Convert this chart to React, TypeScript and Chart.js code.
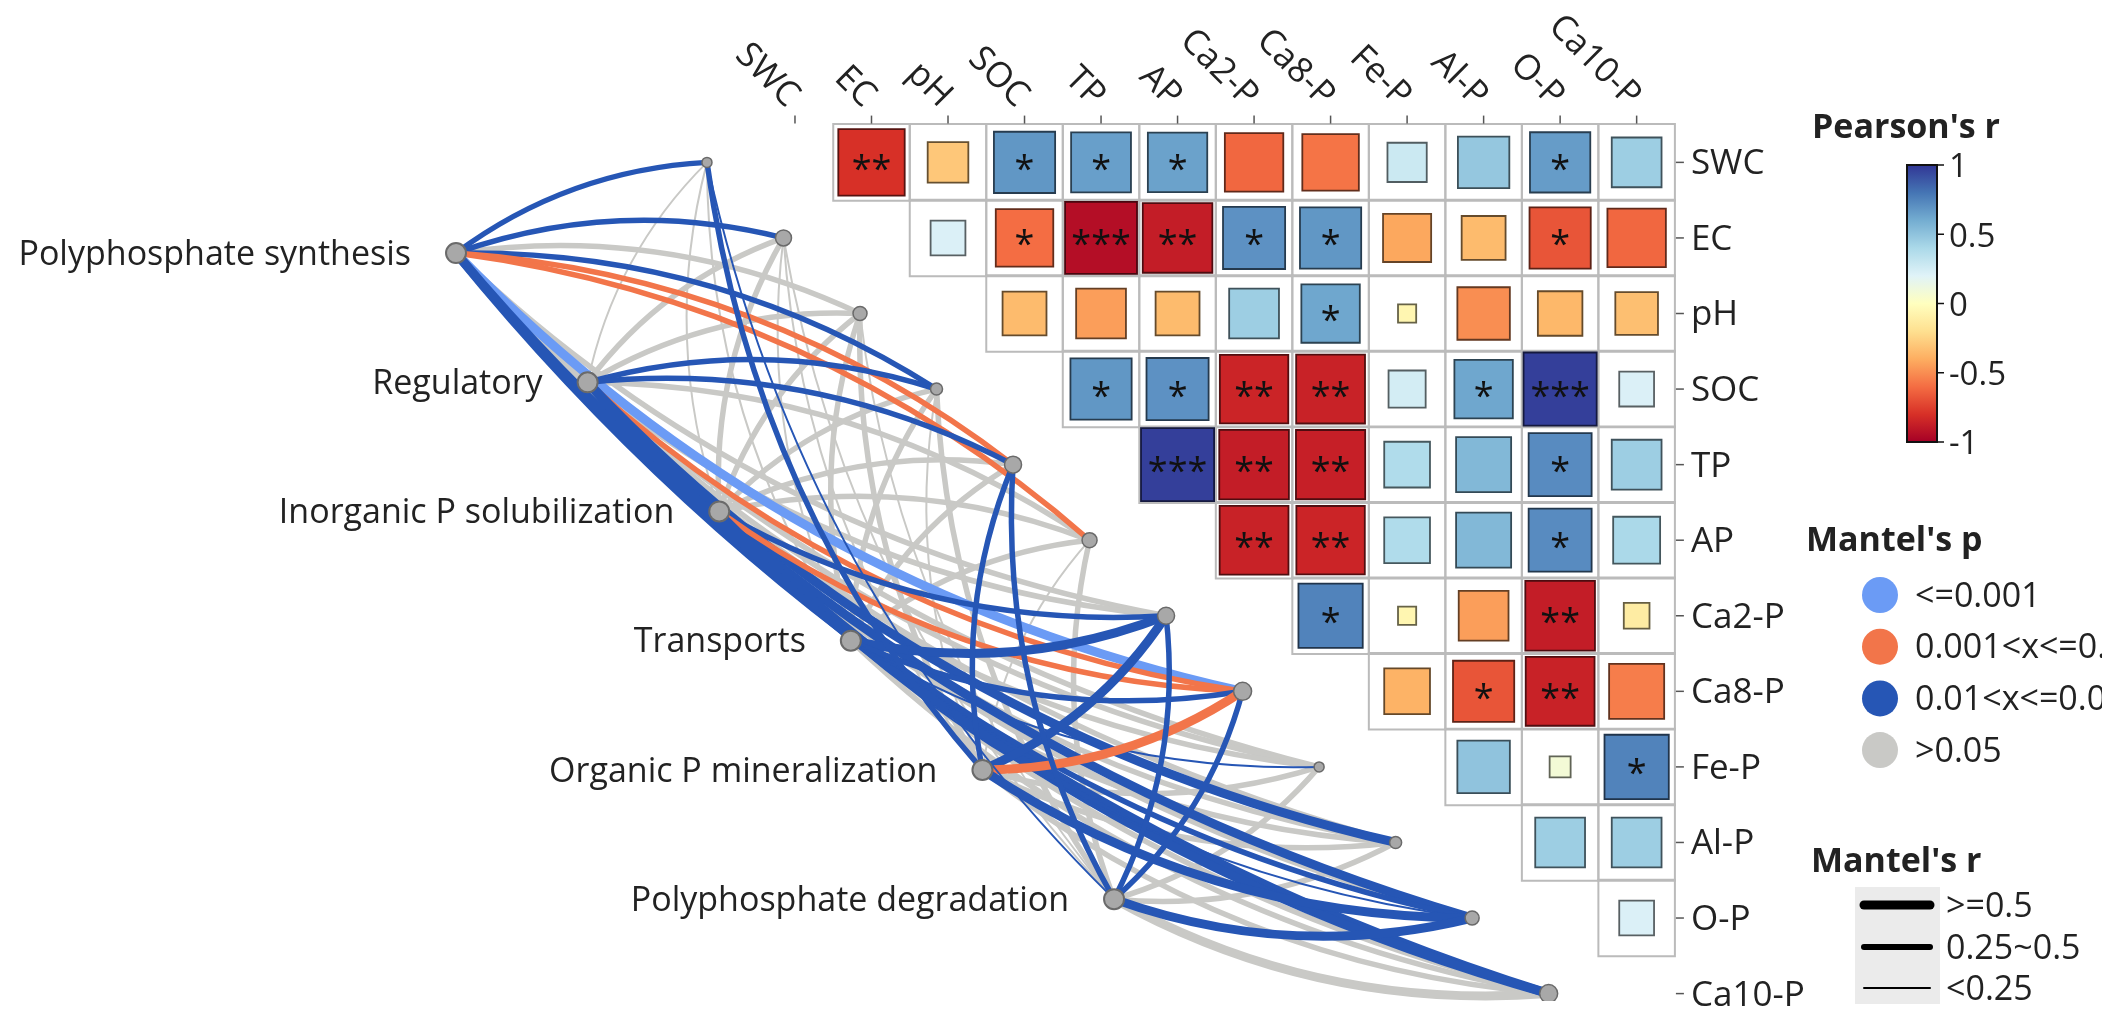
import React, { useEffect, useRef } from "react";
import { Chart, registerables } from "chart.js";

Chart.register(...registerables);

// ---------------- data ----------------
const envVars = ["SWC", "EC", "pH", "SOC", "TP", "AP", "Ca2-P", "Ca8-P", "Fe-P", "Al-P", "O-P", "Ca10-P"];
const speciesGroups = [
  "Polyphosphate synthesis",
  "Regulatory",
  "Inorganic P solubilization",
  "Transports",
  "Organic P mineralization",
  "Polyphosphate degradation",
];

// Pearson's r, upper triangle: row i holds columns i+1 .. 11
const pearsonSWC = [-0.8, -0.3, 0.68, 0.65, 0.64, -0.62, -0.58, 0.28, 0.48, 0.66, 0.45];
const pearsonEC = [0.22, -0.6, -0.94, -0.88, 0.7, 0.68, -0.42, -0.35, -0.68, -0.62];
const pearsonPH = [-0.35, -0.45, -0.35, 0.45, 0.62, -0.06, -0.5, -0.36, -0.33];
const pearsonSOC = [0.68, 0.7, -0.85, -0.86, 0.25, 0.62, 0.97, 0.22];
const pearsonTP = [0.97, -0.88, -0.87, 0.38, 0.55, 0.72, 0.45];
const pearsonAP = [-0.86, -0.85, 0.38, 0.55, 0.72, 0.4];
const pearsonCa2P = [0.75, -0.06, -0.45, -0.88, -0.12];
const pearsonCa8P = [-0.38, -0.68, -0.86, -0.55];
const pearsonFeP = [0.5, 0.08, 0.75];
const pearsonAlP = [0.45, 0.45];
const pearsonOP = [0.22];
const pearsonRows = [pearsonSWC, pearsonEC, pearsonPH, pearsonSOC, pearsonTP, pearsonAP, pearsonCa2P, pearsonCa8P, pearsonFeP, pearsonAlP, pearsonOP];

// significance marks of the same cells
const starsSWC = ["**", "", "*", "*", "*", "", "", "", "", "*", ""];
const starsEC = ["", "*", "***", "**", "*", "*", "", "", "*", ""];
const starsPH = ["", "", "", "", "*", "", "", "", ""];
const starsSOC = ["*", "*", "**", "**", "", "*", "***", ""];
const starsTP = ["***", "**", "**", "", "", "*", ""];
const starsAP = ["**", "**", "", "", "*", ""];
const starsCa2P = ["*", "", "", "**", ""];
const starsCa8P = ["", "*", "**", ""];
const starsFeP = ["", "", "*"];
const starsAlP = ["", ""];
const starsOP = [""];
const starRows = [starsSWC, starsEC, starsPH, starsSOC, starsTP, starsAP, starsCa2P, starsCa8P, starsFeP, starsAlP, starsOP];

// Mantel test (p, r) of each functional group against SWC .. Ca10-P
const mantelP_synthesis = [0.02, 0.03, 0.21, 0.02, 0.004, 0.006, 0.12, 0.0006, 0.18, 0.09, 0.015, 0.03];
const mantelR_synthesis = [0.34, 0.33, 0.45, 0.36, 0.46, 0.4, 0.32, 0.52, 0.3, 0.4, 0.62, 0.58];
const mantelP_regulatory = [0.35, 0.28, 0.22, 0.03, 0.04, 0.16, 0.09, 0.005, 0.3, 0.02, 0.12, 0.02];
const mantelR_regulatory = [0.18, 0.3, 0.33, 0.34, 0.32, 0.3, 0.28, 0.42, 0.27, 0.55, 0.35, 0.6];
const mantelP_inorganic = [0.45, 0.3, 0.26, 0.18, 0.14, 0.22, 0.03, 0.006, 0.4, 0.2, 0.02, 0.15];
const mantelR_inorganic = [0.15, 0.28, 0.3, 0.27, 0.3, 0.29, 0.4, 0.42, 0.26, 0.35, 0.45, 0.4];
const mantelP_transports = [0.5, 0.42, 0.3, 0.25, 0.2, 0.19, 0.02, 0.03, 0.04, 0.3, 0.04, 0.2];
const mantelR_transports = [0.12, 0.16, 0.27, 0.28, 0.3, 0.3, 0.55, 0.4, 0.2, 0.3, 0.2, 0.35];
const mantelP_organic = [0.03, 0.22, 0.3, 0.4, 0.02, 0.35, 0.02, 0.004, 0.3, 0.2, 0.02, 0.1];
const mantelR_organic = [0.33, 0.2, 0.28, 0.18, 0.35, 0.2, 0.52, 0.5, 0.27, 0.3, 0.55, 0.4];
const mantelP_degradation = [0.04, 0.3, 0.35, 0.3, 0.03, 0.25, 0.04, 0.03, 0.2, 0.15, 0.02, 0.12];
const mantelR_degradation = [0.2, 0.15, 0.12, 0.26, 0.3, 0.27, 0.34, 0.36, 0.28, 0.3, 0.6, 0.55];
const mantelPRows = [mantelP_synthesis, mantelP_regulatory, mantelP_inorganic, mantelP_transports, mantelP_organic, mantelP_degradation];
const mantelRRows = [mantelR_synthesis, mantelR_regulatory, mantelR_inorganic, mantelR_transports, mantelR_organic, mantelR_degradation];

// legend text
const colorbarTicks = [1, 0.5, 0, -0.5, -1];
const pLegendLabels = ["<=0.001", "0.001<x<=0.01", "0.01<x<=0.05", ">0.05"];
const rLegendLabels = [">=0.5", "0.25~0.5", "<0.25"];

// ---------------- layout & style ----------------
const W = 2102;
const H = 1013;
const X_MIN = -10.233;
const X_MAX = 16.925;
const Y_MIN = -1.99;
const Y_MAX = 11.098;
const SPEC_X0 = -4.43;
const SPEC_DX = 1.72;
const SPEC_Y0 = 1.2;
const SPEC_DY = 1.71;
const ENV_X_OFFSET = -1.15;
const CURVATURE = 0.15;
const envNodeRadius = [5, 8, 7, 6, 8.5, 7.5, 8.5, 9, 5, 6, 7, 9];
const P_COLORS = ["#6B9BF5", "#F2754A", "#2656B5", "#C9C9C6"];
const R_WIDTHS = [2, 5.5, 9];
const FONT = "'Open Sans', 'Noto Sans', sans-serif";
const TEXT = "#222222";
const RDYLBU = ["#A50026", "#D73027", "#F46D43", "#FDAE61", "#FEE090", "#FFFFBF", "#E0F3F8", "#ABD9E9", "#74ADD1", "#4575B4", "#313695"];

function hexRgb(h: string) {
  const n = parseInt(h.slice(1), 16);
  return [(n >> 16) & 255, (n >> 8) & 255, n & 255];
}
function corrRgb(v: number) {
  const t = ((Math.max(-1, Math.min(1, v)) + 1) / 2) * (RDYLBU.length - 1);
  const i = Math.min(Math.floor(t), RDYLBU.length - 2);
  const f = t - i;
  const a = hexRgb(RDYLBU[i]);
  const b = hexRgb(RDYLBU[i + 1]);
  return [0, 1, 2].map((k) => Math.round(a[k] + (b[k] - a[k]) * f));
}
function corrColor(v: number) {
  const c = corrRgb(v);
  return `rgb(${c[0]},${c[1]},${c[2]})`;
}
function corrBorder(v: number) {
  const c = corrRgb(v).map((x) => Math.round(x * 0.4));
  return `rgb(${c[0]},${c[1]},${c[2]})`;
}
function pClass(p: number) {
  if (p <= 0.001) return 0;
  if (p <= 0.01) return 1;
  if (p <= 0.05) return 2;
  return 3;
}
function rClass(r: number) {
  if (r >= 0.5) return 2;
  if (r >= 0.25) return 1;
  return 0;
}
const specX = (i: number) => SPEC_X0 + i * SPEC_DX;
const specY = (i: number) => SPEC_Y0 + i * SPEC_DY;

function cellPx(chart: any) {
  return Math.abs(chart.scales.x.getPixelForValue(1) - chart.scales.x.getPixelForValue(0));
}

// ---------------- plugins ----------------
const curvesPlugin = {
  id: "mantelCurves",
  beforeDatasetsDraw(chart: any) {
    const { ctx, scales } = chart;
    const xs = scales.x;
    const ys = scales.y;
    const edges: any[] = [];
    mantelPRows.forEach((row, i) => {
      row.forEach((p, j) => {
        edges.push({ i, j, pc: pClass(p), rc: rClass(mantelRRows[i][j]) });
      });
    });
    edges.sort((a, b) => (a.pc === 3 ? 0 : 1) - (b.pc === 3 ? 0 : 1));
    ctx.save();
    ctx.lineCap = "butt";
    edges.forEach((e) => {
      const sx = xs.getPixelForValue(specX(e.i));
      const sy = ys.getPixelForValue(specY(e.i));
      const ex = xs.getPixelForValue(e.j + ENV_X_OFFSET);
      const ey = ys.getPixelForValue(e.j);
      const dx = ex - sx;
      const dy = ey - sy;
      const sgn = e.j < envVars.length / 2 ? 1 : -1;
      const cx = (sx + ex) / 2 + sgn * CURVATURE * dy;
      const cy = (sy + ey) / 2 - sgn * CURVATURE * dx;
      ctx.beginPath();
      ctx.moveTo(sx, sy);
      ctx.quadraticCurveTo(cx, cy, ex, ey);
      ctx.strokeStyle = P_COLORS[e.pc];
      ctx.lineWidth = R_WIDTHS[e.rc];
      ctx.stroke();
    });
    ctx.restore();
  },
};

const labelsPlugin = {
  id: "corrLabels",
  afterDatasetsDraw(chart: any) {
    const { ctx, scales } = chart;
    const xs = scales.x;
    const ys = scales.y;
    ctx.save();
    // stars
    ctx.fillStyle = "#111";
    ctx.font = `36px ${FONT}`;
    ctx.textAlign = "center";
    ctx.textBaseline = "alphabetic";
    starRows.forEach((row, i) => {
      row.forEach((s, k) => {
        if (!s) return;
        const j = i + 1 + k;
        const px = xs.getPixelForValue(j);
        const py = ys.getPixelForValue(i);
        const m = ctx.measureText(s);
        const asc = m.actualBoundingBoxAscent;
        const desc = m.actualBoundingBoxDescent;
        ctx.fillText(s, px, py + (asc - desc) / 2);
      });
    });
    // top axis
    const gridTop = ys.getPixelForValue(-0.5);
    const gridRight = xs.getPixelForValue(envVars.length - 0.5);
    ctx.strokeStyle = "#555";
    ctx.lineWidth = 1.5;
    ctx.fillStyle = TEXT;
    ctx.font = `35px ${FONT}`;
    envVars.forEach((name, j) => {
      const px = xs.getPixelForValue(j);
      ctx.beginPath();
      ctx.moveTo(px, gridTop - 9);
      ctx.lineTo(px, gridTop - 1);
      ctx.stroke();
      ctx.save();
      ctx.translate(px - 9, gridTop - 16);
      ctx.rotate(Math.PI / 4);
      ctx.textAlign = "right";
      ctx.textBaseline = "alphabetic";
      ctx.fillText(name, 0, 0);
      ctx.restore();
    });
    // right axis
    ctx.textAlign = "left";
    ctx.textBaseline = "middle";
    envVars.forEach((name, i) => {
      const py = ys.getPixelForValue(i);
      ctx.beginPath();
      ctx.moveTo(gridRight + 1, py);
      ctx.lineTo(gridRight + 9, py);
      ctx.stroke();
      ctx.fillText(name, gridRight + 16, py + 2);
    });
    // species labels
    ctx.font = `34px ${FONT}`;
    ctx.textAlign = "right";
    speciesGroups.forEach((name, i) => {
      const px = xs.getPixelForValue(specX(i));
      const py = ys.getPixelForValue(specY(i));
      ctx.fillText(name, px - 45, py + 2);
    });
    ctx.restore();
  },
  afterDraw(chart: any) {
    const { ctx } = chart;
    ctx.save();
    ctx.fillStyle = TEXT;
    ctx.textBaseline = "middle";
    ctx.textAlign = "left";
    // Pearson's r colorbar
    ctx.font = `bold 34px ${FONT}`;
    ctx.fillText("Pearson's r", 1812, 128);
    const bx = 1907, bw = 30, bt = 165, bb = 442;
    const g = ctx.createLinearGradient(0, bt, 0, bb);
    RDYLBU.slice().reverse().forEach((c, k) => g.addColorStop(k / (RDYLBU.length - 1), c));
    ctx.fillStyle = g;
    ctx.fillRect(bx, bt, bw, bb - bt);
    ctx.strokeStyle = "#111";
    ctx.lineWidth = 2;
    ctx.strokeRect(bx, bt, bw, bb - bt);
    ctx.fillStyle = TEXT;
    ctx.font = `33px ${FONT}`;
    colorbarTicks.forEach((v) => {
      const y = bt + ((1 - v) / 2) * (bb - bt);
      ctx.beginPath();
      ctx.moveTo(bx + bw, y);
      ctx.lineTo(bx + bw + 7, y);
      ctx.lineWidth = 1.5;
      ctx.stroke();
      ctx.fillText(String(v), bx + bw + 12, y + 3);
    });
    // Mantel's p
    ctx.font = `bold 34px ${FONT}`;
    ctx.fillText("Mantel's p", 1806, 541);
    ctx.font = `34px ${FONT}`;
    pLegendLabels.forEach((lab, k) => {
      const y = 595 + k * 51.7;
      ctx.beginPath();
      ctx.arc(1880, y, 18, 0, Math.PI * 2);
      ctx.fillStyle = P_COLORS[k];
      ctx.fill();
      ctx.fillStyle = TEXT;
      ctx.fillText(lab, 1915, y + 2);
    });
    // Mantel's r
    ctx.font = `bold 34px ${FONT}`;
    ctx.fillText("Mantel's r", 1811, 862);
    ctx.fillStyle = "#EBEBEB";
    ctx.fillRect(1855, 887, 85, 117);
    ctx.font = `34px ${FONT}`;
    const ly = [905, 947, 988];
    const lw = [9, 6, 2];
    rLegendLabels.forEach((lab, k) => {
      ctx.beginPath();
      ctx.moveTo(1864, ly[k]);
      ctx.lineTo(1930, ly[k]);
      ctx.strokeStyle = "#000";
      ctx.lineWidth = lw[k];
      ctx.lineCap = "round";
      ctx.stroke();
      ctx.fillStyle = TEXT;
      ctx.fillText(lab, 1946, ly[k] + 2);
    });
    ctx.restore();
  },
};

// ---------------- component ----------------
export default function App() {
  const ref = useRef<HTMLCanvasElement>(null);
  useEffect(() => {
    document.body.style.margin = "0";
    const canvas = ref.current;
    if (!canvas) return;

    const gridCells: any[] = [];
    const corrCells: any[] = [];
    pearsonRows.forEach((row, i) => {
      row.forEach((r, k) => {
        const j = i + 1 + k;
        gridCells.push({ x: j, y: i });
        corrCells.push({ x: j, y: i, r });
      });
    });
    const envNodes = envVars.map((_, j) => ({ x: j + ENV_X_OFFSET, y: j }));
    const specNodes = speciesGroups.map((_, i) => ({ x: specX(i), y: specY(i) }));

    const chart = new Chart(canvas, {
      type: "scatter",
      data: {
        datasets: [
          {
            label: "functional groups",
            data: specNodes,
            order: 0,
            pointStyle: "circle",
            pointRadius: 10,
            pointBackgroundColor: "#A8A8A8",
            pointBorderColor: "#6A6A6A",
            pointBorderWidth: 2,
          },
          {
            label: "environment",
            data: envNodes,
            order: 1,
            pointStyle: "circle",
            pointRadius: (c: any) => envNodeRadius[c.dataIndex],
            pointBackgroundColor: "#A8A8A8",
            pointBorderColor: "#6A6A6A",
            pointBorderWidth: 1.5,
          },
          {
            label: "Pearson's r",
            data: corrCells,
            order: 2,
            pointStyle: "rect",
            pointRadius: (c: any) => (Math.sqrt(Math.abs(c.raw.r)) * cellPx(c.chart) * 0.97) / Math.SQRT2,
            pointBackgroundColor: (c: any) => corrColor(c.raw.r),
            pointBorderColor: (c: any) => corrBorder(c.raw.r),
            pointBorderWidth: 1.8,
          },
          {
            label: "grid",
            data: gridCells,
            order: 3,
            pointStyle: "rect",
            pointRadius: (c: any) => cellPx(c.chart) / Math.SQRT2,
            pointBackgroundColor: "rgba(255,255,255,0)",
            pointBorderColor: "#BBBBBB",
            pointBorderWidth: 2,
          },
        ],
      },
      options: {
        responsive: false,
        animation: false,
        devicePixelRatio: 1,
        events: [],
        layout: { padding: 0 },
        plugins: { legend: { display: false }, tooltip: { enabled: false } },
        scales: {
          x: { type: "linear", min: X_MIN, max: X_MAX, display: false },
          y: { type: "linear", reverse: true, min: Y_MIN, max: Y_MAX, display: false },
        },
      },
      plugins: [curvesPlugin, labelsPlugin],
    } as any);
    return () => chart.destroy();
  }, []);
  return <canvas ref={ref} width={W} height={H} style={{ display: "block" }} />;
}
